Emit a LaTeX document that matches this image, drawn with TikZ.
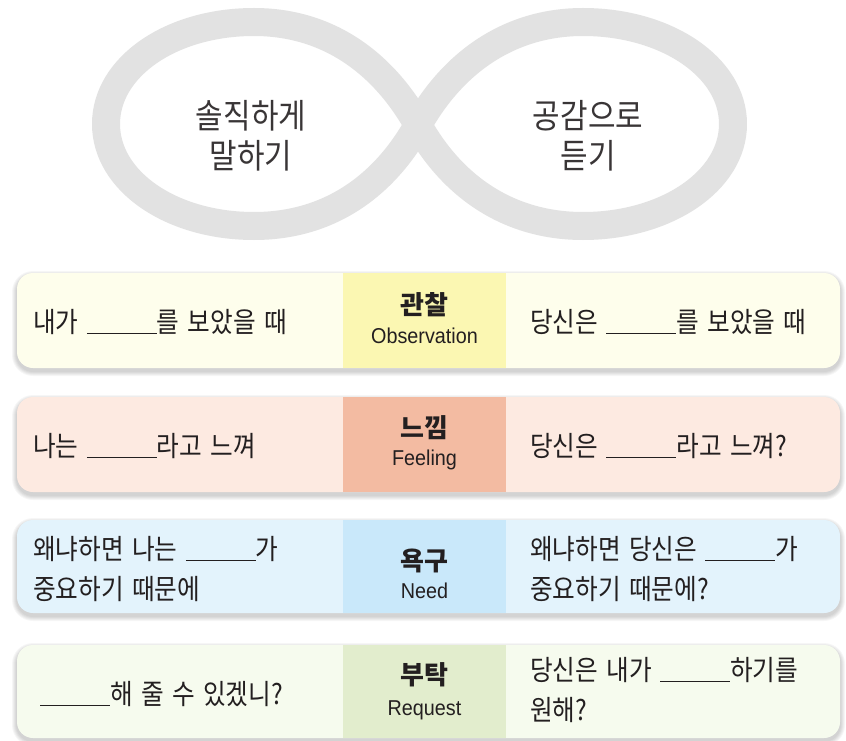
\documentclass[tikz,border=0pt]{standalone}
\usepackage{fontspec}
\newfontfamily\kr[WordSpace=2.2]{Noto Sans CJK KR}
\newfontfamily\krn[FakeStretch=0.88, WordSpace=1.5]{Noto Sans CJK KR}
\newfontfamily\en[FakeStretch=0.92]{Liberation Sans}
\definecolor{ink}{HTML}{231F20}
\definecolor{loopgray}{HTML}{E2E2E2}
\definecolor{yA}{HTML}{FEFEEC}
\definecolor{yB}{HTML}{FBF7B2}
\definecolor{pA}{HTML}{FDEAE1}
\definecolor{pB}{HTML}{F3BBA2}
\definecolor{bA}{HTML}{E3F3FC}
\definecolor{bB}{HTML}{C9E8FA}
\definecolor{gA}{HTML}{F6FBEE}
\definecolor{gB}{HTML}{E2EDCD}
\newcommand\blank{\rule[-2pt]{70pt}{1.1pt}}
\tikzset{
  loopline/.style={draw=loopgray, line width=28pt, line join=round},
  looptext/.style={align=center, inner sep=0pt, text=ink!90, font=\krn\fontsize{34}{40}\selectfont},
  rowbox/.style={rounded corners=16pt, minimum width=823pt, inner sep=0pt},
  midbox/.style={minimum width=163pt, inner sep=0pt},
  side/.style={anchor=west, inner sep=0pt, align=left, text=ink, font=\krn\fontsize{28}{40}\selectfont},
  lab/.style={inner sep=0pt, text=ink, font=\kr\bfseries\fontsize{26}{30}\selectfont},
  eng/.style={inner sep=0pt, text=ink, font=\en\fontsize{21.5}{24}\selectfont}
}
\begin{document}
\begin{tikzpicture}[x=1pt,y=-1pt]
\useasboundingbox[fill=white] (0,0) rectangle (846,741);
% infinity sign
\draw[loopline] (418,125) .. controls (452,64) and (508,22) .. (583,22)
 .. controls (666,22) and (733,67) .. (733,124)
 .. controls (733,181) and (666,226) .. (583,226)
 .. controls (508,226) and (452,186) .. (418,125)
 .. controls (384,64) and (329,22) .. (254,22)
 .. controls (171,22) and (106,67) .. (106,124)
 .. controls (106,181) and (171,226) .. (254,226)
 .. controls (329,226) and (384,186) .. (418,125) -- cycle;
\node[looptext] (speak) at (251,136) {솔직하게\\말하기};
\node[looptext] (listen) at (588,136) {공감으로\\듣기};
% shadows
\foreach \t/\b in {273/368, 397/492, 520/613, 645/738}{
  \foreach \i in {1,...,5}{
    \fill[black, opacity=0.035, rounded corners={16pt+\i pt}] (17-\i, \t-\i+3) rectangle (840+\i, \b+\i+3);
  }
}
% rows
\node[rowbox, fill=yA, minimum height=95pt] (row1) at (428.5,320.5) {};
\node[midbox, fill=yB, minimum height=95pt] (mid1) at (424.5,320.5) {};
\node[rowbox, fill=pA, minimum height=95pt] (row2) at (428.5,444.5) {};
\node[midbox, fill=pB, minimum height=95pt] (mid2) at (424.5,444.5) {};
\node[rowbox, fill=bA, minimum height=93pt] (row3) at (428.5,566.5) {};
\node[midbox, fill=bB, minimum height=93pt] (mid3) at (424.5,566.5) {};
\node[rowbox, fill=gA, minimum height=93pt] (row4) at (428.5,691.5) {};
\node[midbox, fill=gB, minimum height=93pt] (mid4) at (424.5,691.5) {};
% labels
\node[lab] (k1) at (424.5,305) {관찰};
\node[eng] (e1) at (424.5,336) {Observation};
\node[lab] (k2) at (424.5,428) {느낌};
\node[eng] (e2) at (424.5,460) {Feeling};
\node[lab] (k3) at (424.5,561) {욕구};
\node[eng] (e3) at (424.5,591) {Need};
\node[lab] (k4) at (424.5,675) {부탁};
\node[eng] (e4) at (424.5,710) {Request};
% side texts
\node[side] (l1) at (33,322) {내가 \blank{}를 보았을 때};
\node[side] (r1) at (530,322) {당신은 \blank{}를 보았을 때};
\node[side] (l2) at (33,446) {나는 \blank{}라고 느껴};
\node[side] (r2) at (530,446) {당신은 \blank{}라고 느껴?};
\node[side] (l3) at (33,569) {왜냐하면 나는 \blank{}가\\중요하기 때문에};
\node[side] (r3) at (530,569) {왜냐하면 당신은 \blank{}가\\중요하기 때문에?};
\node[side] (l4) at (40,694) {\blank{}해 줄 수 있겠니?};
\node[side] (r4) at (530,690) {당신은 내가 \blank{}하기를\\원해?};
\end{tikzpicture}
\end{document}
